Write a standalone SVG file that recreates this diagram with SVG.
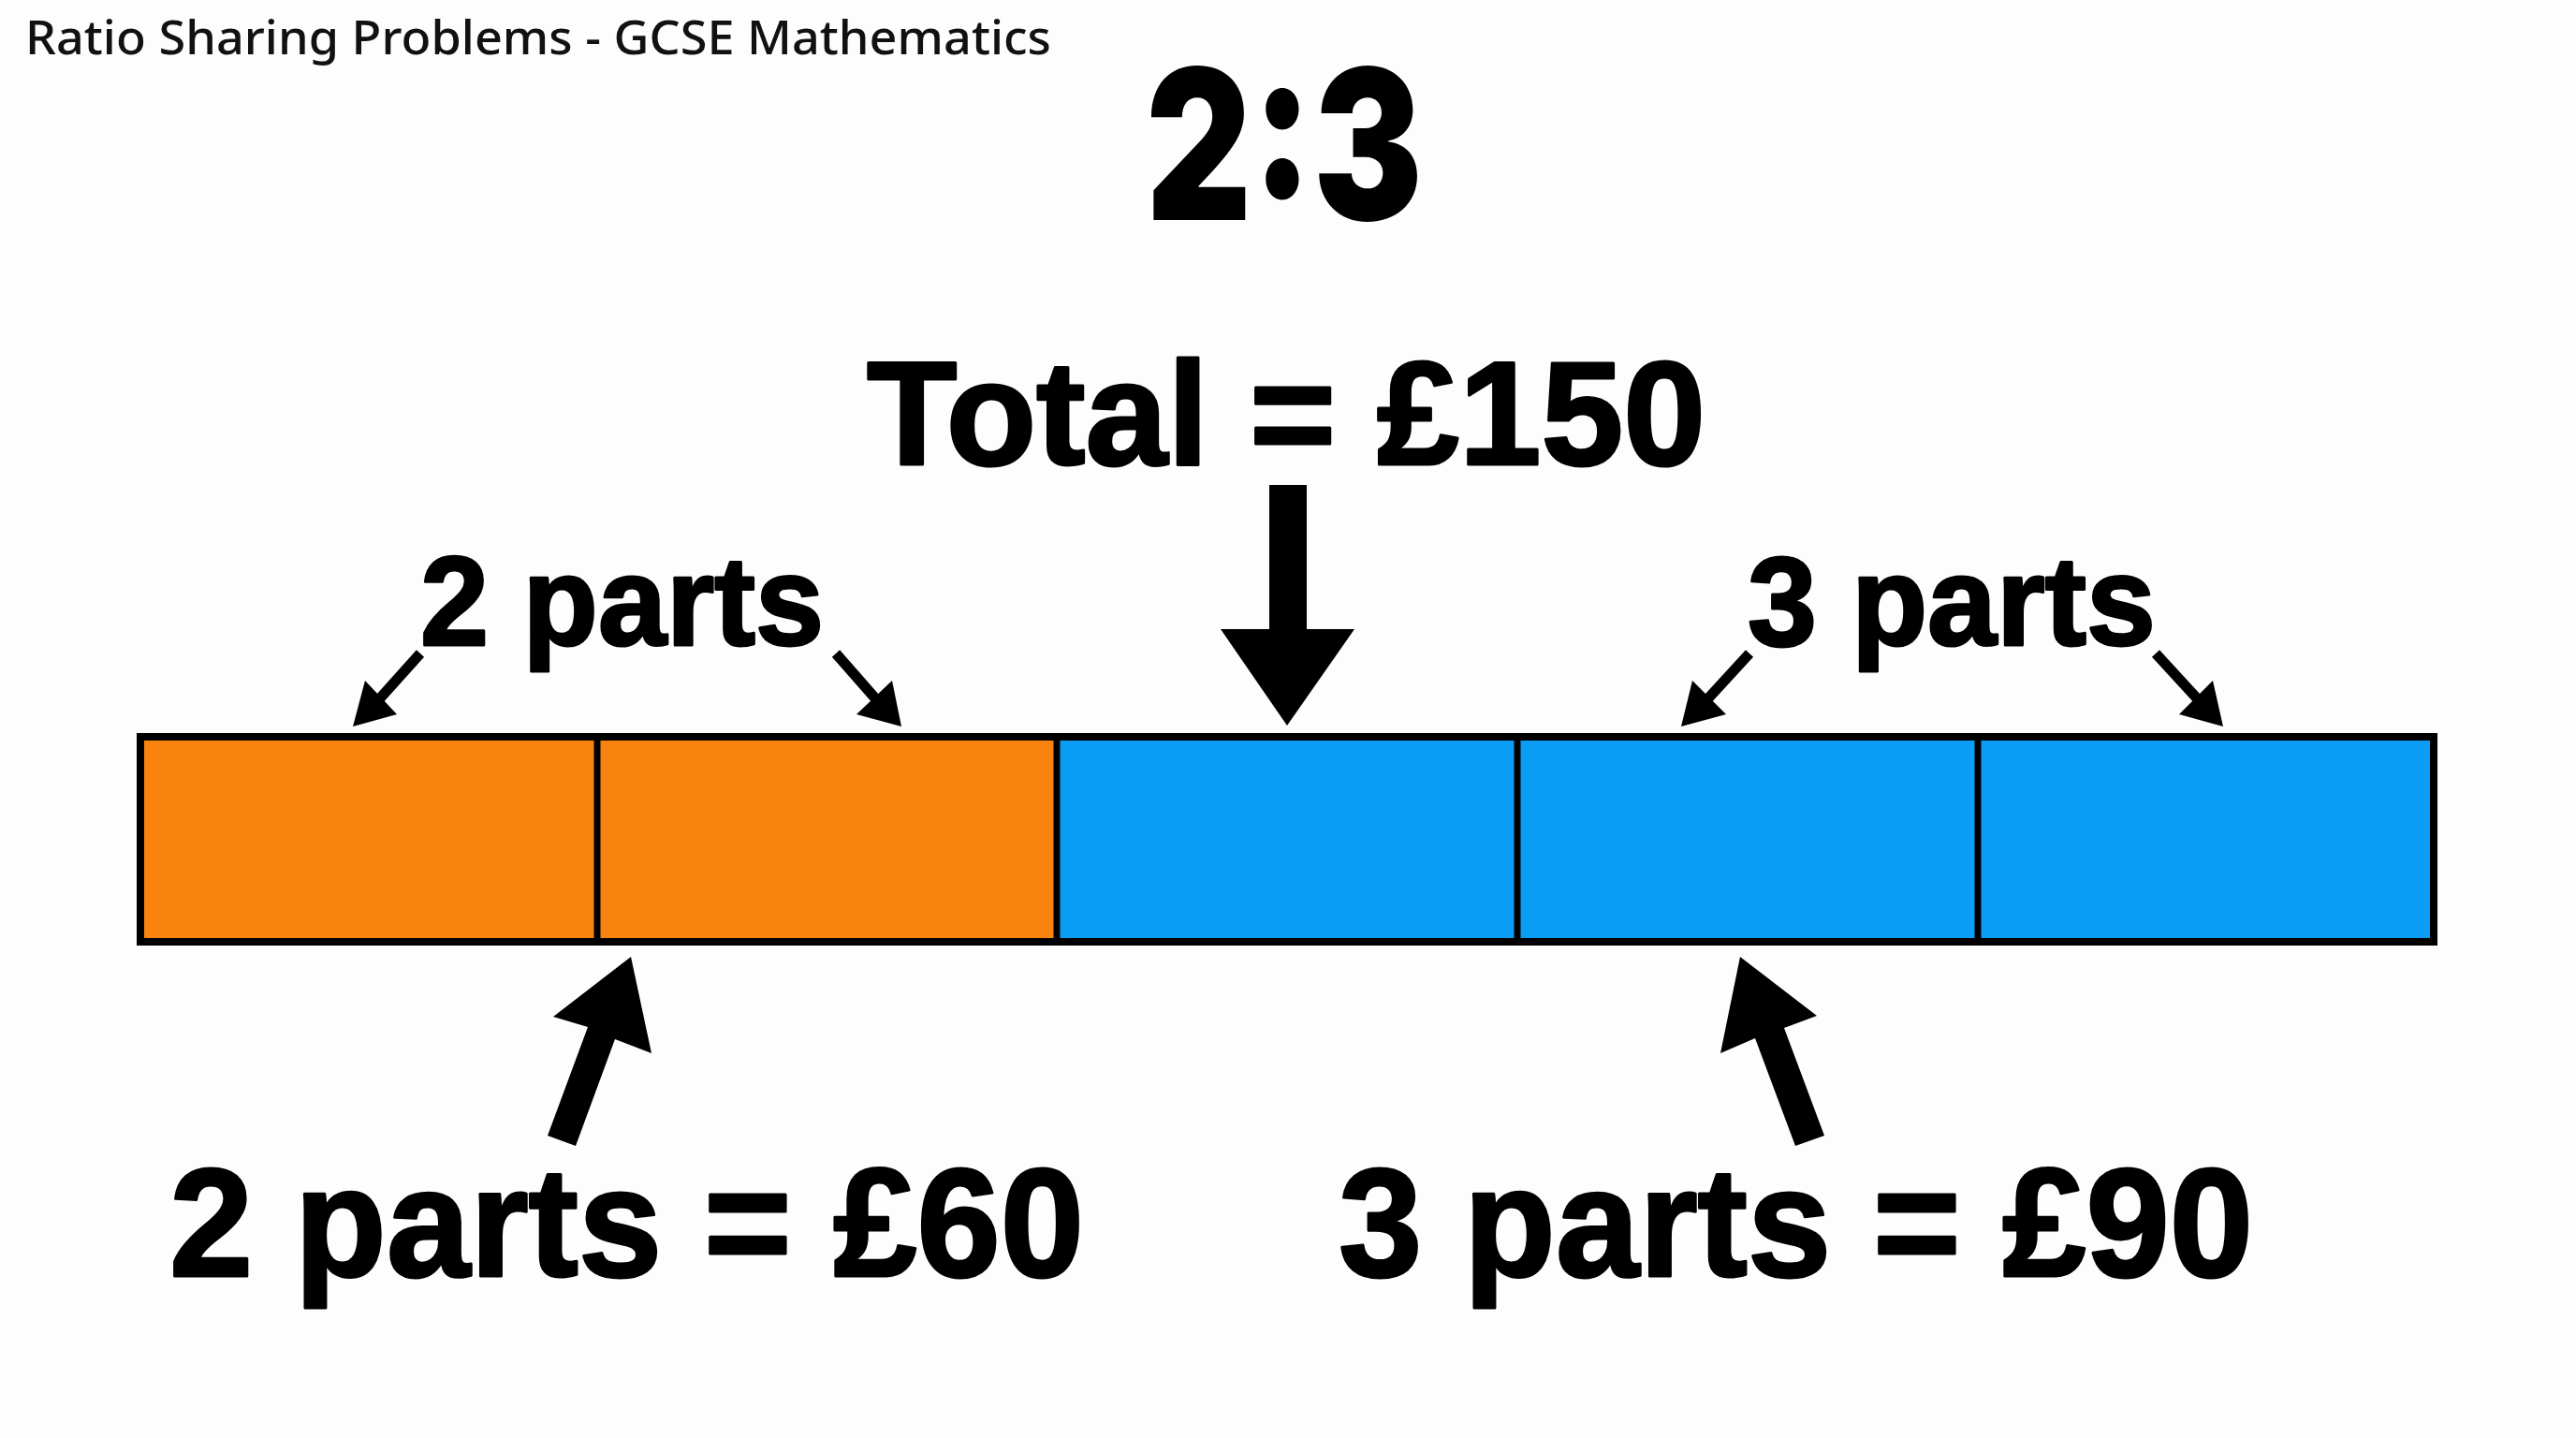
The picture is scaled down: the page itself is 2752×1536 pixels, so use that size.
<svg xmlns="http://www.w3.org/2000/svg" width="2752" height="1536" viewBox="0 0 2752 1536">
<style>
.title{font-family:"Noto Sans","Open Sans",sans-serif;font-size:50px;font-weight:500;fill:#111}
.big{font-family:"Liberation Sans",Arial,sans-serif;font-weight:bold;fill:#000;stroke:#000;stroke-width:3;stroke-linejoin:round}
.ratio{font-family:Inter,"Liberation Sans",sans-serif;font-weight:900;font-size:224px;fill:#000}
.orange{fill:#F8840F}
.blue{fill:#0B9DF6}
.frame{fill:none;stroke:#000;stroke-width:8}
.div{stroke:#000;stroke-width:7}
.shaft{stroke:#000;stroke-width:11;fill:none}
.head{fill:#000}
</style>
<rect width="2752" height="1536" fill="#FDFDFD"/>
<g id="title"><text class="title" x="27" y="58" textLength="1096" lengthAdjust="spacingAndGlyphs">Ratio Sharing Problems - GCSE Mathematics</text></g>
<g id="ratio"><text class="ratio" x="1224" y="235" textLength="296" lengthAdjust="spacingAndGlyphs">2:3</text></g>
<g id="total"><text class="big" x="926" y="496" font-size="158" textLength="896" lengthAdjust="spacingAndGlyphs">Total = £150</text></g>
<g id="bar">
<rect class="orange" x="150" y="787" width="491" height="219"/>
<rect class="orange" x="638" y="787" width="491" height="219"/>
<rect class="blue" x="1129" y="787" width="492" height="219"/>
<rect class="blue" x="1621" y="787" width="492" height="219"/>
<rect class="blue" x="2113" y="787" width="487" height="219"/>
<line class="div" x1="638" y1="787" x2="638" y2="1006"/>
<line class="div" x1="1129" y1="787" x2="1129" y2="1006"/>
<line class="div" x1="1621" y1="787" x2="1621" y2="1006"/>
<line class="div" x1="2113" y1="787" x2="2113" y2="1006"/>
<rect class="frame" x="150" y="787" width="2450" height="219"/>
</g>
<g id="label-2parts"><text class="big" x="449" y="689" font-size="135" textLength="431" lengthAdjust="spacingAndGlyphs">2 parts</text></g>
<g id="label-3parts"><text class="big" x="1867" y="689" font-size="135" textLength="436" lengthAdjust="spacingAndGlyphs">3 parts</text></g>
<g id="label-60"><text class="big" x="181" y="1363" font-size="165" textLength="977" lengthAdjust="spacingAndGlyphs">2 parts = £60</text></g>
<g id="label-90"><text class="big" x="1430" y="1363" font-size="165" textLength="977" lengthAdjust="spacingAndGlyphs">3 parts = £90</text></g>
<g id="connectors">
<polygon class="head" points="1356,518 1396,518 1396,672 1447,672 1375,775 1304,672 1356,672"/>
<line class="shaft" x1="449" y1="698" x2="405" y2="747"/>
<polygon class="head" points="390,727 377,776 424,763"/>
<line class="shaft" x1="893" y1="698" x2="936" y2="747"/>
<polygon class="head" points="953,727 963,776 915,763"/>
<line class="shaft" x1="1869" y1="698" x2="1824" y2="747"/>
<polygon class="head" points="1808,727 1796,776 1844,763"/>
<line class="shaft" x1="2303" y1="698" x2="2348" y2="747"/>
<polygon class="head" points="2364,727 2375,776 2328,763"/>
<polygon class="head" points="674,1022 696,1125 657,1110 615,1224 585,1213 628,1097 591,1086"/>
<polygon class="head" points="1859,1022 1941,1085 1906,1098 1949,1213 1918,1224 1875,1109 1838,1125"/>
</g>
</svg>
